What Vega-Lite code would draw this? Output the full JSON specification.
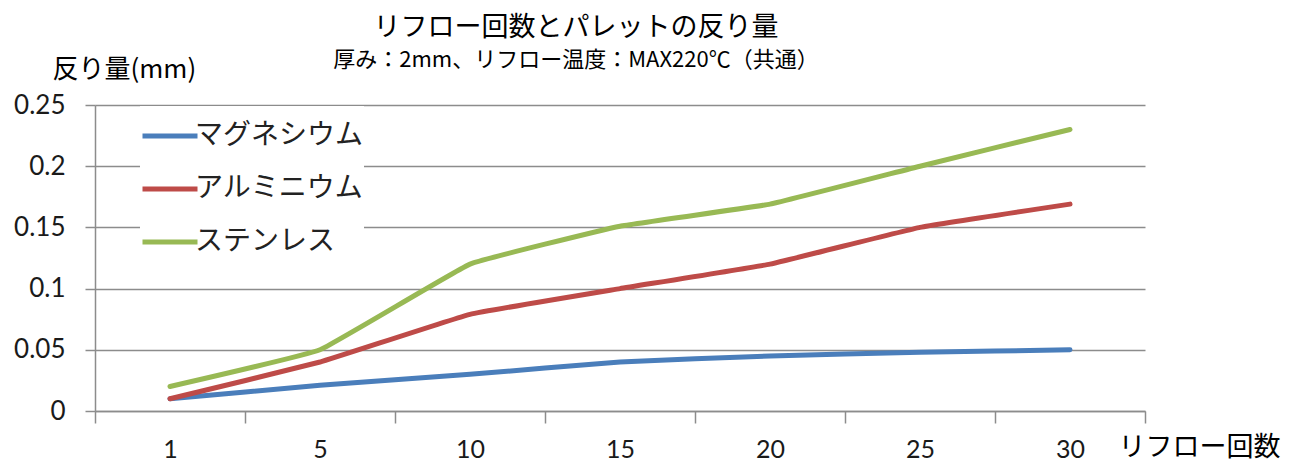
{
  "$schema": "https://vega.github.io/schema/vega-lite/v6.json",
  "width": 1050,
  "height": 306,
  "autosize": "none",
  "padding": {"left": 95, "top": 105, "right": 145, "bottom": 54},
  "background": "white",
  "config": {"view": {"stroke": null}, "font": "Noto Sans CJK JP"},
  "title": {
    "text": "リフロー回数とパレットの反り量",
    "subtitle": "厚み：2mm、リフロー温度：MAX220℃（共通）",
    "anchor": "middle",
    "dx": -44,
    "offset": -16,
    "font": "Noto Sans CJK JP",
    "fontSize": 27,
    "fontWeight": "normal",
    "color": "black",
    "subtitleFont": "Noto Sans CJK JP",
    "subtitleFontSize": 22,
    "subtitleColor": "black",
    "subtitlePadding": 8
  },
  "data": {
    "values": [
      {"n": 1, "series": "マグネシウム", "v": 0.01},
      {"n": 5, "series": "マグネシウム", "v": 0.021},
      {"n": 10, "series": "マグネシウム", "v": 0.03},
      {"n": 15, "series": "マグネシウム", "v": 0.04},
      {"n": 20, "series": "マグネシウム", "v": 0.045},
      {"n": 25, "series": "マグネシウム", "v": 0.048},
      {"n": 30, "series": "マグネシウム", "v": 0.05},
      {"n": 1, "series": "アルミニウム", "v": 0.01},
      {"n": 5, "series": "アルミニウム", "v": 0.04},
      {"n": 10, "series": "アルミニウム", "v": 0.079},
      {"n": 15, "series": "アルミニウム", "v": 0.1},
      {"n": 20, "series": "アルミニウム", "v": 0.12},
      {"n": 25, "series": "アルミニウム", "v": 0.15},
      {"n": 30, "series": "アルミニウム", "v": 0.169},
      {"n": 1, "series": "ステンレス", "v": 0.02},
      {"n": 5, "series": "ステンレス", "v": 0.05},
      {"n": 10, "series": "ステンレス", "v": 0.12},
      {"n": 15, "series": "ステンレス", "v": 0.151},
      {"n": 20, "series": "ステンレス", "v": 0.169},
      {"n": 25, "series": "ステンレス", "v": 0.2},
      {"n": 30, "series": "ステンレス", "v": 0.23}
    ]
  },
  "mark": {"type": "line", "interpolate": "cardinal", "tension": 0.75, "strokeWidth": 5, "strokeCap": "round"},
  "encoding": {
    "x": {
      "field": "n",
      "type": "ordinal",
      "scale": {"type": "band", "paddingInner": 0, "paddingOuter": 0},
      "bandPosition": 0.5,
      "axis": {
        "title": "リフロー回数",
        "titleX": 1023,
        "titleY": 44,
        "titleAlign": "left",
        "titleBaseline": "alphabetic",
        "titleFont": "Noto Sans CJK JP",
        "titleFontSize": 27,
        "titleFontWeight": "normal",
        "titleColor": "black",
        "labelAngle": 0,
        "labelFont": "Lato",
        "labelFontSize": 25,
        "labelColor": "#1a1a1a",
        "labelPadding": 14,
        "tickBand": "extent",
        "tickSize": 12,
        "tickColor": "#8c8c8c",
        "tickWidth": 1.5,
        "domainColor": "#8c8c8c",
        "domainWidth": 1.5,
        "grid": false
      }
    },
    "y": {
      "field": "v",
      "type": "quantitative",
      "scale": {"domain": [0, 0.25], "nice": false},
      "axis": {
        "values": [0, 0.05, 0.1, 0.15, 0.2, 0.25],
        "format": ".2~f",
        "title": "反り量(mm)",
        "titleAngle": 0,
        "titleX": -43,
        "titleY": -28,
        "titleAlign": "left",
        "titleBaseline": "alphabetic",
        "titleFont": "Noto Sans CJK JP",
        "titleFontSize": 26,
        "titleFontWeight": "normal",
        "titleColor": "black",
        "labelFont": "Lato",
        "labelFontSize": 26,
        "labelColor": "#1a1a1a",
        "labelPadding": 20,
        "tickSize": 10,
        "tickColor": "#8c8c8c",
        "tickWidth": 1.5,
        "domainColor": "#8c8c8c",
        "domainWidth": 1.5,
        "grid": true,
        "gridColor": "#8c8c8c",
        "gridWidth": 1.5
      }
    },
    "color": {
      "field": "series",
      "type": "nominal",
      "scale": {
        "domain": ["マグネシウム", "アルミニウム", "ステンレス"],
        "range": ["#4a7ebb", "#be4b48", "#98b954"]
      },
      "legend": {
        "orient": "none",
        "legendX": 45,
        "legendY": 1,
        "title": null,
        "symbolType": "stroke",
        "symbolSize": 3025,
        "symbolStrokeWidth": 5,
        "labelFont": "Noto Sans CJK JP",
        "labelFontSize": 28,
        "labelColor": "#222222",
        "labelOffset": -5,
        "labelLimit": 400,
        "fillColor": "white",
        "padding": 0,
        "rowPadding": 9
      }
    }
  }
}
